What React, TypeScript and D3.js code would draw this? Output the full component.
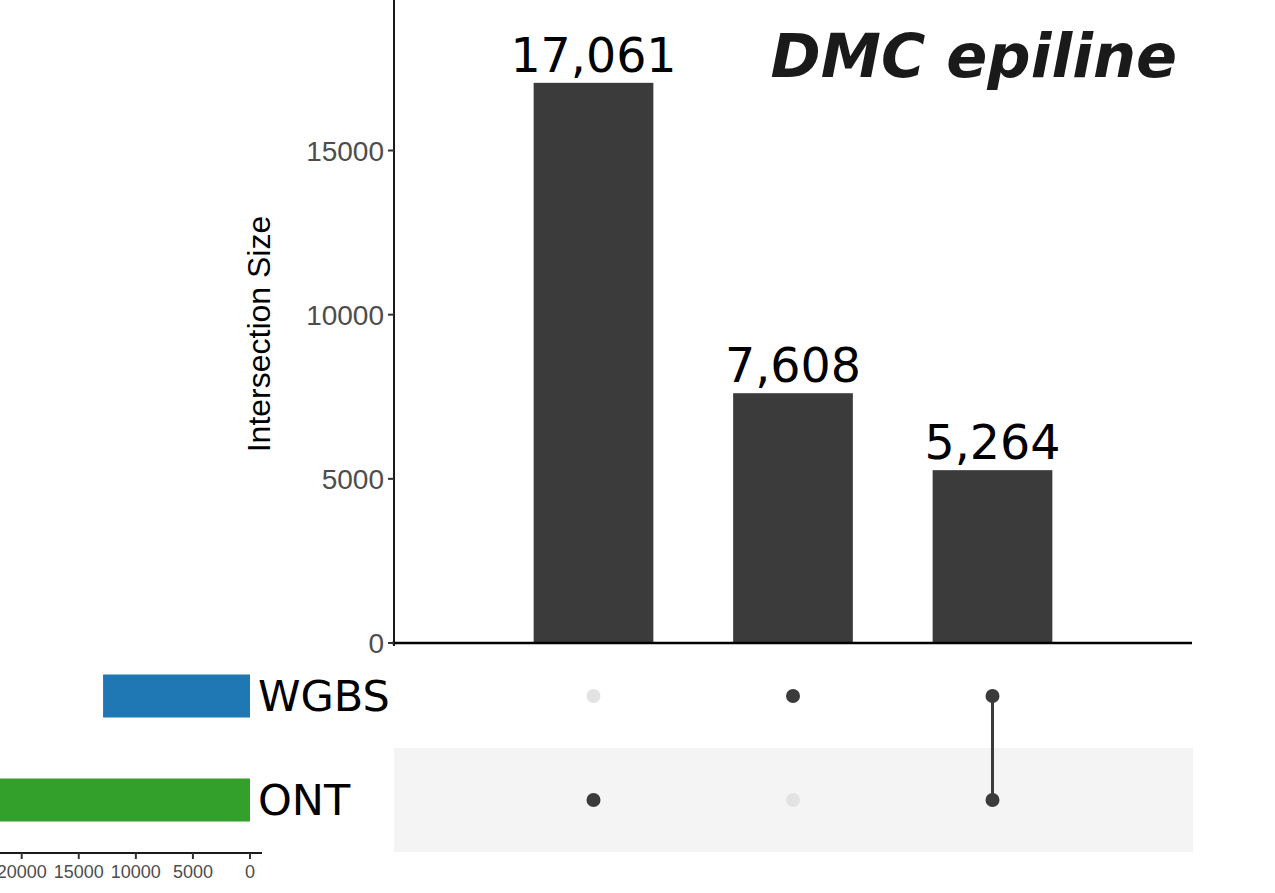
import React from "react";
import * as d3 from "d3";

// Sets and their total sizes
const setNames = ["WGBS", "ONT"];
const setSizes = [12872, 22325];
const setColors = ["#1f78b4", "#33a02c"];

// Intersections (ordered by size) and their membership
const intersectionNames = ["ONT only", "WGBS only", "ONT & WGBS"];
const intersectionSizes = [17061, 7608, 5264];
const intersectionMembers = [["ONT"], ["WGBS"], ["WGBS", "ONT"]];

const sizeTicks = [0, 5000, 10000, 15000];
const setSizeTicks = [0, 5000, 10000, 15000, 20000];

const title = "DMC epiline";

const W = 1275;
const H = 893;

export default function App() {
  const x = d3.scalePoint<string>().domain(intersectionNames).range([394, 1192]).padding(1);
  const step = x.step();
  const barW = step * 0.6;
  const y = d3.scaleLinear().domain([0, 15000]).range([643, 150.5]);
  const rowY = d3.scalePoint<string>().domain(setNames).range([696, 800]);
  const rowH = 104;
  const sx = d3.scaleLinear().domain([0, 20000]).range([250, 21.7]);
  const fmt = d3.format(",");

  const sans = "'Liberation Sans', Arial, Helvetica, sans-serif";
  const dejavu = "'DejaVu Sans', sans-serif";

  return (
    <svg width={W} height={H} style={{ position: "absolute", left: 0, top: 0, background: "#fff" }}>
      {/* shaded matrix rows */}
      {setNames.map((s, i) =>
        i % 2 === 1 ? (
          <rect key={s} x={394} y={rowY(s)! - rowH / 2} width={799} height={rowH} fill="#f4f4f4" />
        ) : null
      )}

      {/* intersection bars */}
      {intersectionNames.map((n, i) => (
        <rect key={n} x={x(n)! - barW / 2} y={y(intersectionSizes[i])} width={barW}
          height={y(0) - y(intersectionSizes[i])} fill="#3b3b3b" />
      ))}
      {intersectionNames.map((n, i) => (
        <text key={n} x={x(n)!} y={y(intersectionSizes[i]) - 11} textAnchor="middle"
          fontFamily={dejavu} fontSize={47.5} fill="#000">{fmt(intersectionSizes[i])}</text>
      ))}

      {/* y axis */}
      <line x1={394} x2={394} y1={0} y2={646} stroke="#1a1a1a" strokeWidth={2} />
      <line x1={392} x2={1192} y1={y(0)} y2={y(0)} stroke="#000" strokeWidth={2.5} />
      {sizeTicks.map((t) => (
        <g key={t}>
          <line x1={388} x2={394} y1={y(t)} y2={y(t)} stroke="#333" strokeWidth={2} />
          <text x={384} y={y(t)} dy="0.36em" textAnchor="end" fontFamily={sans} fontSize={28} fill="#4d4d4d">{t}</text>
        </g>
      ))}
      <text transform={`translate(270,${(215 + 453) / 2}) rotate(-90)`} textAnchor="middle"
        fontFamily={sans} fontSize={32} fill="#000">Intersection Size</text>

      {/* title */}
      <text x={1177} y={77} textAnchor="end" fontFamily={dejavu} fontWeight="bold" fontStyle="italic"
        fontSize={60.5} fill="#1a1a1a">{title}</text>

      {/* matrix */}
      {intersectionNames.map((n, i) => {
        const ys = intersectionMembers[i].map((m) => rowY(m)!);
        return (
          <g key={n}>
            {ys.length > 1 && (
              <line x1={x(n)!} x2={x(n)!} y1={d3.min(ys)!} y2={d3.max(ys)!} stroke="#3b3b3b" strokeWidth={3} />
            )}
            {setNames.map((s) => (
              <circle key={s} cx={x(n)!} cy={rowY(s)!} r={7}
                fill={intersectionMembers[i].includes(s) ? "#3b3b3b" : "#e3e3e3"} />
            ))}
          </g>
        );
      })}

      {/* set size bars */}
      {setNames.map((s, i) => (
        <g key={s}>
          <rect x={sx(setSizes[i])} y={rowY(s)! - 21.5} width={sx(0) - sx(setSizes[i])} height={43} fill={setColors[i]} />
          <text x={258} y={rowY(s)! + 15} fontFamily={dejavu} fontSize={43} fill="#000">{s}</text>
        </g>
      ))}
      <line x1={0} x2={262} y1={853} y2={853} stroke="#1a1a1a" strokeWidth={2} />
      {setSizeTicks.map((t) => (
        <g key={t}>
          <line x1={sx(t)} x2={sx(t)} y1={853} y2={859} stroke="#333" strokeWidth={2} />
          <text x={sx(t)} y={878} textAnchor="middle" fontFamily={sans} fontSize={18} fill="#4d4d4d">{t}</text>
        </g>
      ))}
    </svg>
  );
}
